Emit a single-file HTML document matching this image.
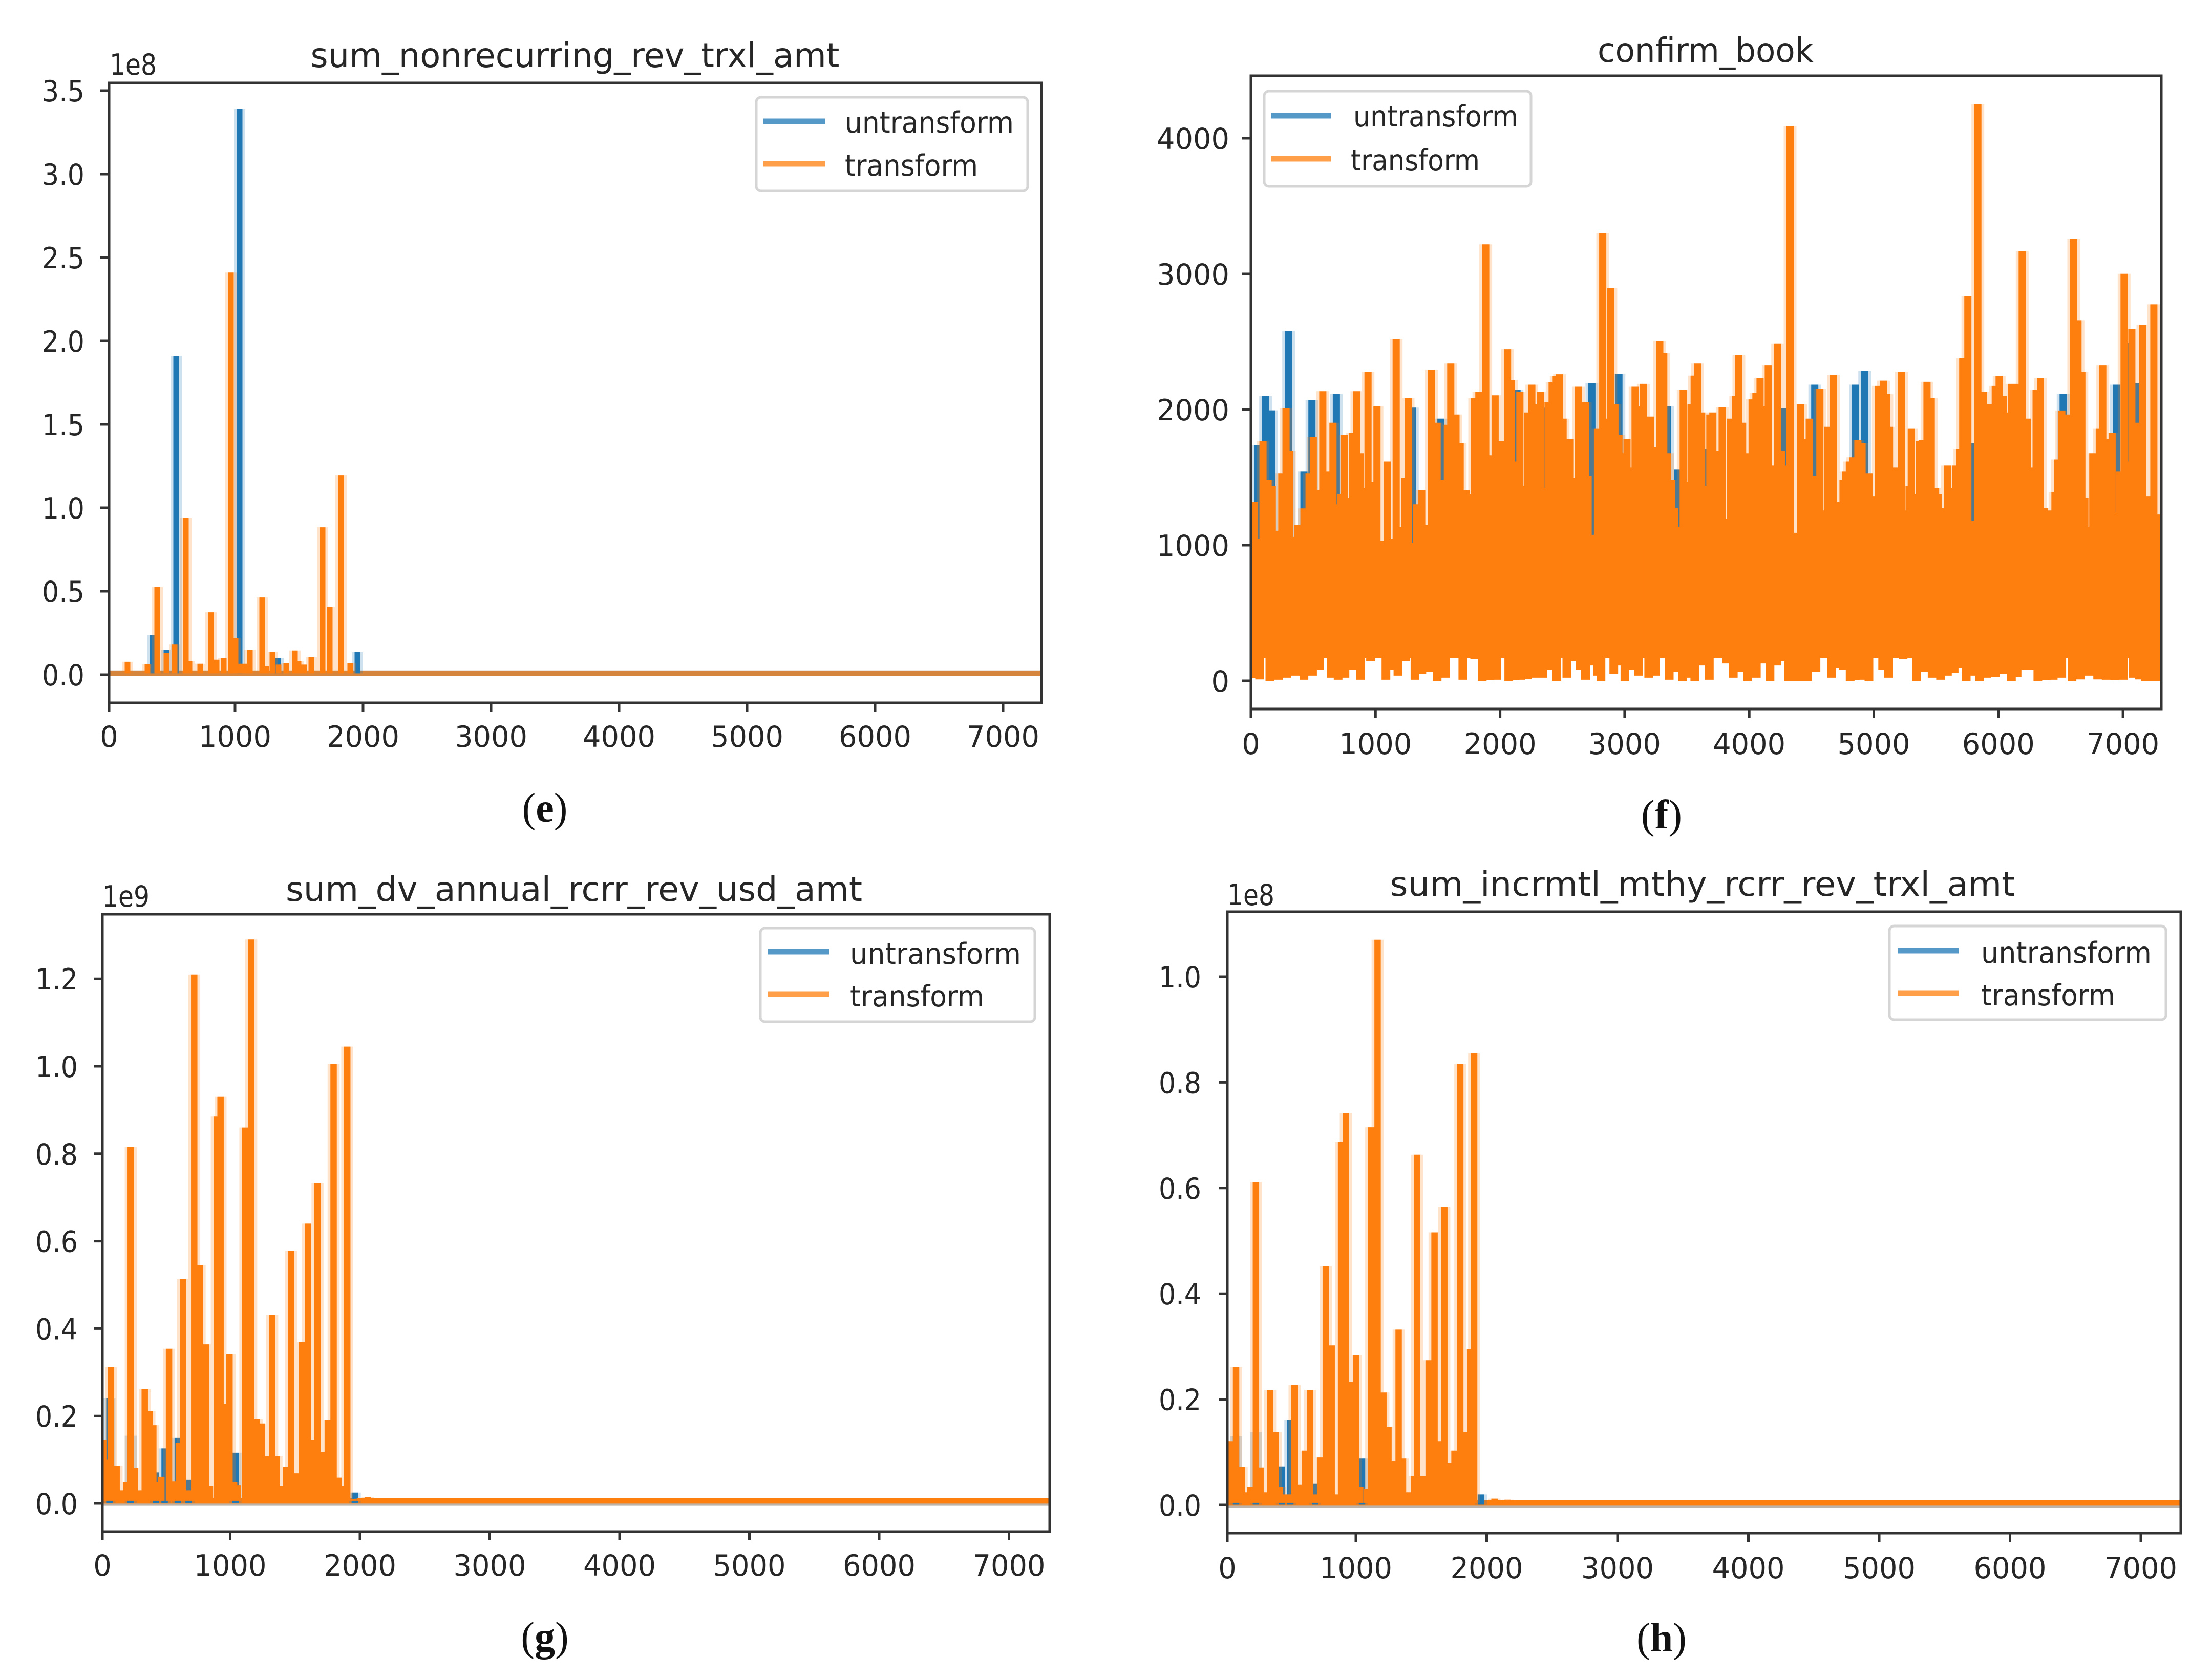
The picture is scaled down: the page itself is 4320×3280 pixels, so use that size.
<!DOCTYPE html>
<html lang="en">
<head>
<meta charset="utf-8">
<title>Transform vs untransform time series panels</title>
<style>
html,body{margin:0;padding:0;background:#fff;width:4320px;height:3280px;overflow:hidden}
svg{display:block}
text{font-family:"DejaVu Sans","Liberation Sans",sans-serif;fill:#262626}
.cap{font-family:"Liberation Serif",serif;fill:#111}
</style>
</head>
<body>
<svg id="figure" xmlns="http://www.w3.org/2000/svg" width="4320" height="3280" viewBox="0 0 4320 3280">
<rect x="0" y="0" width="4320" height="3280" fill="#fff"/>
<text class="cap" x="1064" y="1605" font-size="80" text-anchor="middle">(<tspan font-weight="bold">e</tspan>)</text>
<text class="cap" x="3245" y="1618" font-size="80" text-anchor="middle">(<tspan font-weight="bold">f</tspan>)</text>
<text class="cap" x="1064" y="3224" font-size="80" text-anchor="middle">(<tspan font-weight="bold">g</tspan>)</text>
<text class="cap" x="3245" y="3226" font-size="80" text-anchor="middle">(<tspan font-weight="bold">h</tspan>)</text>
</svg>
<script>
// ---------- shared tick values ----------
const xTickValues = [0,1000,2000,3000,4000,5000,6000,7000];
const xTickLabels = ['0','1000','2000','3000','4000','5000','6000','7000'];
const seriesNames = ['untransform','transform'];

// ---------- panel e: sum_nonrecurring_rev_trxl_amt (1e8) ----------
const eYTicks = [0,0.5,1,1.5,2,2.5,3,3.5];
const eYTickLabels = ['0.0','0.5','1.0','1.5','2.0','2.5','3.0','3.5'];
const eTransformX = [160,316,392,464,528,616,644,728,812,856,912,968,1004,1040,1080,1116,1212,1244,1292,1340,1400,1468,1496,1540,1596,1684,1740,1828,1900];
const eTransformV = [0.077,0.063,0.527,0.129,0.18,0.94,0.08,0.065,0.374,0.09,0.1,2.41,0.22,0.065,0.065,0.15,0.463,0.05,0.138,0.06,0.07,0.145,0.08,0.06,0.105,0.883,0.408,1.196,0.07];
const eUntransformX = [356,464,540,1036,1336,1956];
const eUntransformV = [0.239,0.15,1.91,3.39,0.1,0.135];

// ---------- panel f: confirm_book ----------
const fYTicks = [0,1000,2000,3000,4000];
const fYTickLabels = ['0','1000','2000','3000','4000'];
const fTransformX = [29,66,97,138,172,193,221,248,282,309,344,378,426,467,501,522,577,618,659,697,721,748,775,816,851,878,912,940,967,995,1012,1056,1097,1125,1166,1200,1234,1262,1296,1330,1371,1415,1449,1495,1543,1577,1604,1646,1680,1728,1762,1796,1830,1851,1885,1933,1960,1981,2015,2060,2091,2125,2159,2186,2221,2255,2289,2323,2355,2385,2418,2451,2478,2506,2533,2563,2595,2629,2659,2684,2707,2748,2782,2824,2858,2889,2922,2954,2988,3019,3049,3084,3118,3150,3182,3207,3248,3282,3314,3344,3378,3402,3447,3470,3509,3533,3558,3584,3618,3639,3684,3708,3728,3753,3783,3817,3851,3892,3917,3947,3968,3988,4023,4054,4087,4119,4153,4187,4228,4262,4297,4328,4372,4413,4447,4482,4523,4567,4601,4632,4676,4721,4753,4776,4804,4831,4872,4906,4961,4995,5036,5078,5105,5126,5153,5180,5222,5256,5283,5301,5334,5365,5389,5427,5461,5496,5516,5557,5591,5625,5657,5691,5714,5755,5799,5835,5879,5927,5975,6006,6040,6064,6105,6128,6159,6191,6235,6259,6303,6338,6369,6406,6454,6475,6509,6557,6605,6639,6670,6694,6735,6758,6790,6810,6838,6869,6913,6947,6975,7009,7043,7071,7109,7160,7194,7218,7248,7283];
const fTransformV = [1317,1046,1768,1482,1435,1046,1106,1527,2008,1693,1061,1151,1271,1527,1798,1407,2135,1542,1903,1301,1377,1813,1347,1828,2135,1678,1422,2279,1467,1121,2023,1031,1617,1046,2520,1136,1497,2084,1016,1301,1407,1151,2294,1903,1482,1888,2339,1963,1753,1407,1377,2084,2129,1467,3218,1663,2105,1437,1768,2445,2219,1617,2129,1437,1978,2183,2039,2129,1422,2054,2200,2249,2260,1933,1437,1783,1497,2168,1467,2054,1512,1076,1858,3302,1933,2896,2039,1813,1678,1783,1572,2168,2023,2189,1437,1948,1723,2505,2415,1678,1482,1272,1136,2144,1467,2039,2250,2339,1978,1437,1963,1978,1437,1693,2015,1196,1933,2099,2400,1903,1678,1527,2075,2123,2234,2023,2324,1587,2484,1693,1587,4090,1091,2039,1783,1933,1512,2153,1256,1873,2255,1317,1482,1542,1617,1648,1774,1753,1527,1362,2174,2213,2114,1873,1437,1572,2279,1256,1437,1858,1377,1768,1774,2204,2084,1422,1377,1272,1587,1422,1587,1708,2378,2836,1181,4249,2129,2039,2174,2249,2099,1978,2189,2174,2189,3167,1933,1572,2144,2234,1272,1256,1392,1632,1993,1963,3257,2655,2279,1347,1136,1678,1422,1858,2324,1783,1828,1242,1542,3001,1617,2595,1903,2625,1362,1136,2776,1226];
const fTransformLowX = [0,29,70,108,152,221,289,358,426,495,550,604,646,700,755,810,878,960,1029,1084,1125,1180,1242,1317,1372,1440,1495,1564,1646,1701,1796,1857,1916,1974,2070,2120,2166,2220,2276,2344,2412,2454,2536,2604,2645,2686,2728,2782,2810,2878,2913,2960,3002,3043,3111,3193,3248,3310,3358,3406,3467,3509,3563,3618,3680,3756,3817,3872,3934,3988,4057,4126,4167,4221,4276,4317,4365,4413,4468,4536,4605,4660,4701,4756,4810,4850,4893,4927,4961,5016,5071,5119,5194,5235,5297,5345,5400,5468,5536,5591,5645,5700,5742,5790,5851,5906,5975,6043,6105,6150,6194,6262,6317,6386,6440,6509,6591,6660,6728,6797,6865,6934,7002,7084,7130,7180,7228,7276];
const fTransformLowV = [20,23,10,174,0,8,23,38,8,38,83,264,23,8,23,83,8,144,219,8,83,38,144,8,53,68,0,23,174,8,159,0,5,8,0,5,8,15,23,23,83,0,23,144,83,8,113,38,0,219,53,113,0,83,38,23,38,204,8,68,0,23,0,113,8,174,128,23,68,0,23,128,0,113,144,0,0,0,0,68,219,23,98,83,0,5,8,128,0,174,83,23,174,159,234,0,68,23,8,38,60,98,0,38,0,23,30,53,0,30,83,83,0,5,8,23,0,10,38,10,8,5,8,23,10,0,0,0];
const fUntransformX = [56,118,166,303,426,490,686,1296,1525,2136,2355,2737,2954,3344,3426,3639,4283,4526,4852,4927,5803,6520,6947,7043,7121];
const fUntransformV = [1738,2099,1994,2580,1542,2069,2114,2014,1933,2144,2014,2195,2264,2023,1557,1708,2009,2183,2183,2285,1753,2114,2183,2490,2195];

// ---------- panel g: sum_dv_annual_rcrr_rev_usd_amt (1e9) ----------
const gYTicks = [0,0.2,0.4,0.6,0.8,1,1.2];
const gYTickLabels = ['0.0','0.2','0.4','0.6','0.8','1.0','1.2'];
const gTransformX = [22,50,82,125,167,200,234,266,305,342,378,408,443,470,529,575,607,638,680,723,765,812,844,897,926,963,995,1030,1060,1117,1140,1162,1206,1245,1284,1324,1357,1390,1430,1469,1512,1554,1600,1636,1673,1706,1752,1797,1837,1870,1902,1950,2000,2060,2160];
const gTransformV = [0.145,0.1,0.312,0.086,0.03,0.048,0.815,0.081,0.03,0.262,0.212,0.179,0.048,0.061,0.354,0.05,0.139,0.513,0.03,1.21,0.545,0.364,0.04,0.885,0.93,0.228,0.341,0.048,0.042,0.86,0.04,1.29,0.192,0.183,0.108,0.432,0.108,0.04,0.084,0.578,0.069,0.37,0.64,0.145,0.733,0.118,0.19,1.005,0.059,0.04,1.045,0.01,0.012,0.015,0.012];
const gUntransformX = [70,234,428,495,596,680,1041,1960];
const gUntransformV = [0.24,0.155,0.071,0.126,0.15,0.054,0.116,0.025];

// ---------- panel h: sum_incrmtl_mthy_rcrr_rev_trxl_amt (1e8) ----------
const hYTicks = [0,0.2,0.4,0.6,0.8,1];
const hYTickLabels = ['0.0','0.2','0.4','0.6','0.8','1.0'];
const hTransformX = [40,84,127,160,192,236,271,303,345,388,420,460,495,531,577,610,649,688,727,770,815,851,887,923,963,1001,1033,1086,1117,1140,1166,1210,1249,1295,1327,1360,1399,1445,1468,1514,1556,1601,1637,1676,1712,1754,1798,1840,1876,1904,2060,2160];
const hTransformV = [0.12,0.261,0.072,0.024,0.034,0.611,0.071,0.024,0.218,0.138,0.034,0.02,0.02,0.227,0.038,0.103,0.218,0.02,0.09,0.452,0.302,0.02,0.688,0.742,0.233,0.283,0.034,0.03,0.715,0.03,1.07,0.213,0.148,0.083,0.332,0.088,0.024,0.055,0.663,0.055,0.274,0.516,0.12,0.564,0.079,0.103,0.835,0.138,0.295,0.855,0.012,0.01];
const hUntransformX = [84,236,434,499,688,1047,1957];
const hUntransformV = [0.13,0.138,0.073,0.16,0.04,0.088,0.02];

// ---------- panel layout ----------
const panels = [
 {key:'e',title:'sum_nonrecurring_rev_trxl_amt',titleX:1123,titleY:131,titleLen:1033,left:213,right:2034,top:162,bottom:1373,x0:209,xk:0.25,y0:1318,yk:326,
  yTicks:eYTicks,yLabels:eYTickLabels,yLabelOff:48,xLabelOff:86,offset:{t:'1e8',x:214,y:146},
  tX:eTransformX,tV:eTransformV,uX:eUntransformX,uV:eUntransformV,tBase:0.008,uBase:0.008,tailOp:0.75,uTailColor:'#1f77b4',w:11,
  legend:{x:1477,y:190,w:530,h:183,lx:1491,lw:120,ly1:237,ly2:320,tx1:1650,tw1:330,tx2:1650,tw2:260,b1:259,b2:343}},
 {key:'f',title:'confirm_book',titleX:3331,titleY:121,titleLen:422,left:2443,right:4221,top:148,bottom:1385,x0:2443,xk:0.2433,y0:1330,yk:0.265,
  yTicks:fYTicks,yLabels:fYTickLabels,yLabelOff:42,xLabelOff:88,offset:null,
  tX:fTransformX,tV:fTransformV,uX:fUntransformX,uV:fUntransformV,tBase:170,uBase:600,tailOp:0,uTailColor:'#1f77b4',w:14,lowX:fTransformLowX,lowV:fTransformLowV,lowCeil:1000,
  legend:{x:2469,y:178,w:521,h:186,lx:2483,lw:116,ly1:226,ly2:310,tx1:2643,tw1:322,tx2:2638,tw2:252,b1:247,b2:333}},
 {key:'g',title:'sum_dv_annual_rcrr_rev_usd_amt',titleX:1121,titleY:1760,titleLen:1126,left:200,right:2050,top:1786,bottom:2992,x0:196,xk:0.2535,y0:2937,yk:854,
  yTicks:gYTicks,yLabels:gYTickLabels,yLabelOff:48,xLabelOff:86,offset:{t:'1e9',x:200,y:1771},
  tX:gTransformX,tV:gTransformV,uX:gUntransformX,uV:gUntransformV,tBase:0.006,uBase:0.001,tailOp:1,uTailColor:'#a89a8c',w:12.5,
  legend:{x:1485,y:1813,w:536,h:183,lx:1499,lw:120,ly1:1859,ly2:1942,tx1:1660,tw1:334,tx2:1660,tw2:262,b1:1883,b2:1966}},
 {key:'h',title:'sum_incrmtl_mthy_rcrr_rev_trxl_amt',titleX:3325,titleY:1750,titleLen:1221,left:2397,right:4259,top:1781,bottom:2995,x0:2392.5,xk:0.2555,y0:2940,yk:1032,
  yTicks:hYTicks,yLabels:hYTickLabels,yLabelOff:51,xLabelOff:88,offset:{t:'1e8',x:2397,y:1768},
  tX:hTransformX,tV:hTransformV,uX:hUntransformX,uV:hUntransformV,tBase:0.004,uBase:0.0005,tailOp:1,uTailColor:'#a89a8c',w:12.5,
  legend:{x:3690,y:1809,w:540,h:183,lx:3706,lw:119,ly1:1857,ly2:1940,tx1:3869,tw1:333,tx2:3869,tw2:262,b1:1881,b2:1964}}
];

const NS = 'http://www.w3.org/2000/svg';
const BLUE = '#1f77b4', ORANGE = '#ff7f0e', INK = '#333333';
const svg = document.getElementById('figure');

function addText(parent, str, x, y, size, anchor, len) {
  const t = document.createElementNS(NS, 'text');
  t.setAttribute('x', x);
  t.setAttribute('y', y);
  t.setAttribute('font-size', size);
  t.setAttribute('text-anchor', anchor);
  if (len) {
    t.setAttribute('textLength', len);
    t.setAttribute('lengthAdjust', 'spacingAndGlyphs');
  }
  t.textContent = str;
  parent.appendChild(t);
  return t;
}
function addLine(parent, x1, y1, x2, y2, color, width, opacity) {
  const l = document.createElementNS(NS, 'line');
  l.setAttribute('x1', x1);
  l.setAttribute('y1', y1);
  l.setAttribute('x2', x2);
  l.setAttribute('y2', y2);
  l.setAttribute('stroke', color);
  l.setAttribute('stroke-width', width);
  if (opacity !== undefined) l.setAttribute('stroke-opacity', opacity);
  parent.appendChild(l);
  return l;
}
function addStems(parent, xs, vs, baseOf, X, Y, color, width, opacity) {
  let d = '';
  for (let i = 0; i < xs.length; i++) {
    d += 'M' + X(xs[i]).toFixed(1) + ' ' + Y(baseOf).toFixed(1) + 'V' + Y(vs[i]).toFixed(1);
  }
  const p = document.createElementNS(NS, 'path');
  p.setAttribute('d', d);
  p.setAttribute('fill', 'none');
  p.setAttribute('stroke', color);
  p.setAttribute('stroke-width', width);
  if (opacity !== undefined) p.setAttribute('stroke-opacity', opacity);
  parent.appendChild(p);
  return p;
}

panels.forEach(function (c) {
  const X = function (v) { return c.x0 + c.xk * v; };
  const Y = function (v) { return c.y0 - c.yk * v; };
  const g = document.createElementNS(NS, 'g');
  
  
  svg.appendChild(g);

  const clip = document.createElementNS(NS, 'clipPath');
  clip.setAttribute('id', 'clip-' + c.key);
  const cr = document.createElementNS(NS, 'rect');
  cr.setAttribute('x', c.left);
  cr.setAttribute('y', c.top);
  cr.setAttribute('width', c.right - c.left);
  cr.setAttribute('height', c.bottom - c.top);
  clip.appendChild(cr);
  g.appendChild(clip);

  const plot = document.createElementNS(NS, 'g');
  plot.setAttribute('clip-path', 'url(#clip-' + c.key + ')');
  
  
  g.appendChild(plot);

  if (c.tailOp > 0) {
    const uTail = addLine(plot, c.left, Y(c.uBase), c.right, Y(c.uBase), c.uTailColor, 11, 0.75);
    
    
    const tTail = addLine(plot, c.left, Y(c.tBase), c.right, Y(c.tBase), ORANGE, 11, c.tailOp);
    
    
  }
  const uHalo = addStems(plot, c.uX, c.uV, c.uBase, X, Y, BLUE, c.w + 11, 0.22);
  
  
  const uLine = addStems(plot, c.uX, c.uV, c.uBase, X, Y, BLUE, c.w);
  
  
  const tHalo = addStems(plot, c.tX, c.tV, c.tBase, X, Y, ORANGE, c.w + 11, 0.22);
  
  
  const tLine = addStems(plot, c.tX, c.tV, c.tBase, X, Y, ORANGE, c.w);
  
  
  if (c.lowX) {
    const lLine = addStems(plot, c.lowX, c.lowV, c.lowCeil, X, Y, ORANGE, 17);
    
    
  }

  const frame = document.createElementNS(NS, 'rect');
  frame.setAttribute('x', c.left);
  frame.setAttribute('y', c.top);
  frame.setAttribute('width', c.right - c.left);
  frame.setAttribute('height', c.bottom - c.top);
  frame.setAttribute('fill', 'none');
  frame.setAttribute('stroke', INK);
  frame.setAttribute('stroke-width', 5);
  
  
  g.appendChild(frame);

  xTickValues.forEach(function (v, i) {
    const px = Math.max(X(v), c.left);
    const tick = addLine(g, px, c.bottom, px, c.bottom + 17, INK, 5);
    
    
    const lab = addText(g, xTickLabels[i], px, c.bottom + c.xLabelOff, 57, 'middle', xTickLabels[i].length * 35.5);
    
    
  });
  c.yTicks.forEach(function (v, i) {
    const tick = addLine(g, c.left - 17, Y(v), c.left, Y(v), INK, 5);
    
    
    const s = c.yLabels[i];
    const len = s.indexOf('.') >= 0 ? 83 : s.length * 35.5;
    const lab = addText(g, s, c.left - c.yLabelOff, Y(v) + 21, 57, 'end', len);
    
    
  });

  const title = addText(g, c.title, c.titleX, c.titleY, 66, 'middle', c.titleLen);
  
  

  if (c.offset) {
    const off = addText(g, c.offset.t, c.offset.x, c.offset.y, 57, 'start', 92);
    
    
  }

  const L = c.legend;
  const lg = document.createElementNS(NS, 'g');
  
  
  g.appendChild(lg);
  const box = document.createElementNS(NS, 'rect');
  box.setAttribute('x', L.x);
  box.setAttribute('y', L.y);
  box.setAttribute('width', L.w);
  box.setAttribute('height', L.h);
  box.setAttribute('rx', 9);
  box.setAttribute('fill', '#fff');
  box.setAttribute('stroke', '#d5d5d5');
  box.setAttribute('stroke-width', 5);
  
  
  lg.appendChild(box);

  const k1 = addLine(lg, L.lx, L.ly1, L.lx + L.lw, L.ly1, '#5599c8', 11);
  
  
  const t1 = addText(lg, seriesNames[0], L.tx1, L.b1, 57, 'start', L.tw1);
  
  
  const k2 = addLine(lg, L.lx, L.ly2, L.lx + L.lw, L.ly2, '#ff9f4a', 11);
  
  
  const t2 = addText(lg, seriesNames[1], L.tx2, L.b2, 57, 'start', L.tw2);
  
  
});
</script>
</body>
</html>
